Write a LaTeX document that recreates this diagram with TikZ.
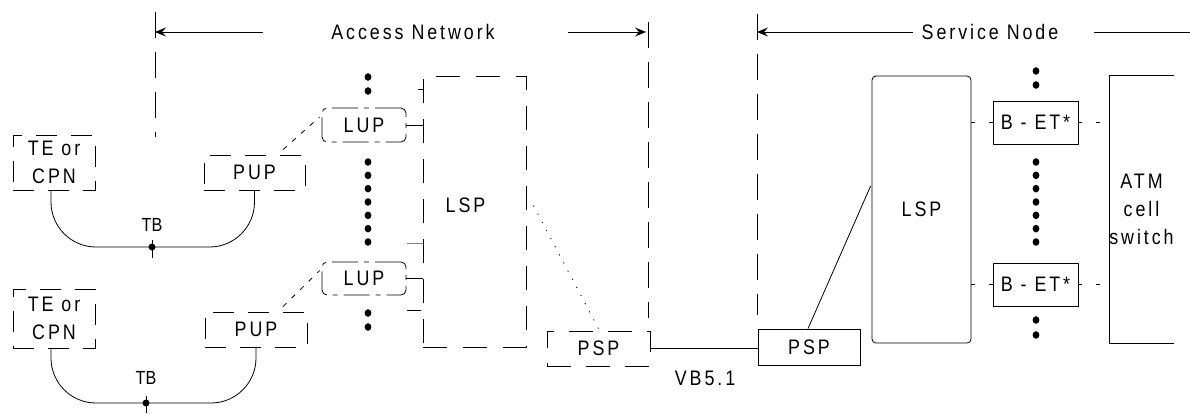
\documentclass[tikz,border=0pt]{standalone}
\usepackage{fontspec}
\setmainfont{Liberation Sans}[FakeStretch=0.85,LetterSpace=14]
\newfontfamily\tbfont{Liberation Sans}[FakeStretch=0.85]
\usetikzlibrary{arrows.meta}
\begin{document}
\begin{tikzpicture}[x=1pt,y=-1pt,line width=0.8pt,
  txt/.style={font=\fontsize{21}{28}\selectfont,inner sep=0pt,align=center},
  box/.style={txt,draw,minimum width=#1},
  dbox/.style={box=#1,dash pattern=on 21pt off 14pt},
  lupbox/.style={box=#1,rounded corners=5pt,dash pattern=on 26pt off 6pt on 5pt off 6pt},
  bound/.style={dash pattern=on 26pt off 14pt},
  arr/.style={-{Stealth[length=11pt,width=9pt,inset=4pt]}},
  tbsty/.style={font=\tbfont\fontsize{19}{21}\selectfont,inner sep=0pt},
  conn/.style={dash pattern=on 4pt off 14pt},
  lnk/.style={dash pattern=on 5pt off 7pt}
]
\useasboundingbox (0,0) rectangle (1190,413);

% header
\node[txt] (an) at (413,32) {Access Network};
\node[txt] (sn) at (990,32) {Service Node};
\coordinate (v1t) at (155,12);  \coordinate (v1b) at (155,137);
\coordinate (v2t) at (648,22);  \coordinate (v2b) at (648,318);
\coordinate (v3t) at (757,14);  \coordinate (v3b) at (757,315);
\coordinate (hr) at (1190,32);
\draw[bound] (v1t) -- (v1b);
\draw[bound] (v2t) -- (v2b);
\draw[bound] (v3t) -- (v3b);
\draw[arr] ([xshift=-68pt]an.west) -- (v1t |- an.west);
\draw[arr] ([xshift=73pt]an.east) -- ([xshift=-2pt]v2t |- an.east);
\draw[arr] ([xshift=-8pt]sn.west) -- (v3t |- sn.west);
\draw ([xshift=35pt]sn.east) -- (hr);

% terminals
\node[dbox=82pt,minimum height=55pt] (te1) at (54,162.5) {TE or\\CPN};
\node[dbox=101pt,minimum height=35pt] (pup1) at (254.5,172.5) {PUP};
\node[dbox=82pt,minimum height=59pt] (te2) at (54,318.5) {TE or\\CPN};
\node[dbox=102pt,minimum height=35pt] (pup2) at (256,329.5) {PUP};

\coordinate (tb1) at (152,247);
\coordinate (tb2) at (146,403);
\draw[rounded corners=45pt] ([xshift=-3pt]te1.south) |- (tb1) -| (pup1.south);
\draw[rounded corners=45pt] ([xshift=-3pt]te2.south) |- (tb2) -| (pup2.south);
\fill (tb1) circle (3.5pt);
\fill (tb2) circle (3.5pt);
\draw ([yshift=7pt]tb1) -- ([yshift=-11pt]tb1);
\draw ([yshift=7pt]tb2) -- ([yshift=-10pt]tb2);
\node[tbsty] (tbl1) at (152,225) {TB};
\node[tbsty] (tbl2) at (146,378) {TB};

% access network
\node[lupbox=84pt,minimum height=34pt] (lup1) at (364,125) {LUP};
\node[lupbox=84pt,minimum height=33pt] (lup2) at (364,278.5) {LUP};
\node[draw,dash pattern=on 24pt off 16pt,minimum width=103pt,minimum height=271pt,
      label={[txt,xshift=-9pt,yshift=6pt]center:LSP}] (lspa) at (474.5,211.5) {};
\node[box=103pt,minimum height=35pt,dash pattern=on 24pt off 15pt] (pspa) at (598.5,348.5) {PSP};

\draw[lnk] ([shift={(28.5pt,5pt)}]pup1.north) -- ([shift={(-2pt,8pt)}]lup1.west);
\draw[lnk] ([shift={(27pt,5pt)}]pup2.north) -- ([shift={(-2pt,8pt)}]lup2.west);
\draw (lup1.east) -- (lup1.east -| lspa.west);
\draw (lup2.east) -- (lup2.east -| lspa.west);
\coordinate (s1) at (418,89);
\coordinate (s2) at (407,243);
\coordinate (s3) at (407,310);
\draw (s1) -- (s1 -| lspa.west);
\draw[gray] (s2) -- (s2 -| lspa.west);
\draw (s3) -- ([xshift=-2pt]s3 -| lspa.west);
\draw[dash pattern=on 1.2pt off 8pt] ([shift={(7pt,6pt)}]lspa.east) -- ([xshift=1pt]pspa.north);

\foreach \y in {77,91,162,175.3,188.6,202,215.3,228.6,242,313,327}
  \fill (368,\y) ellipse (3.4pt and 3.8pt);

% interface
\node[box=102pt,minimum height=36pt] (psps) at (809,347) {PSP};
\draw (pspa.east) -- (pspa.east -| psps.west);
\node[txt] (vb) at (705,378) {VB5.1};

% service node
\node[draw,rounded corners=4pt,minimum width=99pt,minimum height=267pt,txt] (lsps) at (921.5,209.5) {LSP};
\draw ([xshift=-1pt]psps.north) -- ([shift={(-1pt,23.5pt)}]lsps.west);
\node[box=85pt,minimum height=43pt] (bet1) at (1035.5,122.5) {B - ET*};
\node[box=85pt,minimum height=43pt] (bet2) at (1035.5,284.5) {B - ET*};
\node[txt,minimum width=63pt,minimum height=267pt] (atm) at (1141.5,209.5) {ATM\\cell\\switch};
\draw (atm.north east) -- (atm.north west) -- (atm.south west) -- (atm.south east);
\draw[conn] (bet1.west -| lsps.east) -- (bet1.west);
\draw[conn] (bet2.west -| lsps.east) -- (bet2.west);
\draw[conn] (bet1.east) -- (bet1.east -| atm.west);
\draw[conn] (bet2.east) -- (bet2.east -| atm.west);
\foreach \y in {71,85,162,175.3,188.6,202,215.3,228.6,242,320,335}
  \fill (1036,\y) ellipse (3.4pt and 3.8pt);
\end{tikzpicture}
\end{document}
